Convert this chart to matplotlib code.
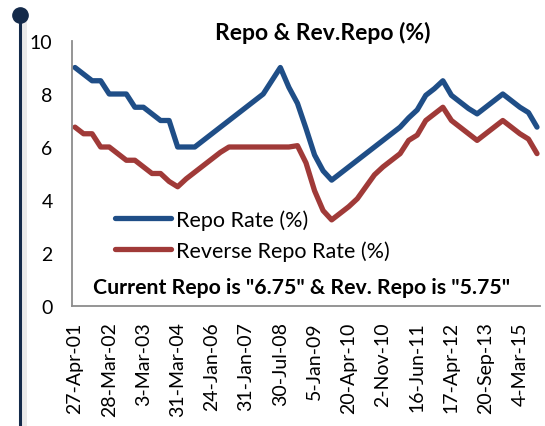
import matplotlib
matplotlib.use("Agg")
import matplotlib.pyplot as plt
from matplotlib.lines import Line2D

plt.rcParams['font.family'] = ['Lato', 'DejaVu Sans']

# policy rate changes, one point per change
repo = [9.0, 8.75, 8.5, 8.5, 8.0, 8.0, 8.0, 7.5, 7.5, 7.25, 7.0, 7.0, 6.0, 6.0, 6.0,
        6.25, 6.5, 6.75, 7.0, 7.25, 7.5, 7.75, 8.0, 8.5, 9.0, 8.25, 7.65, 6.7, 5.7,
        5.1, 4.75, 5.0, 5.25, 5.5, 5.75, 6.0, 6.25, 6.5, 6.75, 7.1, 7.4, 7.95, 8.2,
        8.5, 7.95, 7.7, 7.45, 7.25, 7.5, 7.75, 8.0, 7.75, 7.5, 7.3, 6.75]
rev_repo = [6.75, 6.5, 6.5, 6.0, 6.0, 5.75, 5.5, 5.5, 5.25, 5.0, 5.0, 4.7, 4.5, 4.8,
            5.05, 5.3, 5.55, 5.8, 6.0, 6.0, 6.0, 6.0, 6.0, 6.0, 6.0, 6.0, 6.05, 5.4,
            4.35, 3.6, 3.25, 3.5, 3.75, 4.05, 4.5, 4.95, 5.25, 5.5, 5.75, 6.25, 6.45,
            7.0, 7.25, 7.5, 7.0, 6.75, 6.5, 6.25, 6.5, 6.75, 7.0, 6.75, 6.5, 6.3, 5.75]
tick_labels = ['27-Apr-01', '28-Mar-02', '3-Mar-03', '31-Mar-04', '24-Jan-06',
               '31-Jan-07', '30-Jul-08', '5-Jan-09', '20-Apr-10', '2-Nov-10',
               '16-Jun-11', '17-Apr-12', '20-Sep-13', '4-Mar-15']
label_step = 4

blue = '#1f4e87'
red = '#a03a38'
navy = '#142a4a'

fig = plt.figure(figsize=(5.45, 4.27), dpi=100)
ax = fig.add_axes([72/545, 1 - 307/427, 468/545, 265/427])

x = list(range(len(repo)))
ax.plot(x, repo, color=blue, lw=3.8, solid_joinstyle='round', solid_capstyle='round',
        label='Repo Rate (%)')
ax.plot(x, rev_repo, color=red, lw=3.8, solid_joinstyle='round', solid_capstyle='round',
        label='Reverse Repo Rate (%)')

ax.set_ylim(0, 10)
ax.set_xlim(-0.35, len(repo) - 1 + 0.35)
ax.set_yticks([0, 2, 4, 6, 8, 10])
ax.set_xticks(range(0, len(repo), label_step))
ax.set_xticklabels(tick_labels, rotation=90, va='top', ha='center')
ax.tick_params(axis='y', length=0, pad=14, labelsize=14)
ax.tick_params(axis='x', length=0, pad=11, labelsize=14)
for s in ['top', 'right']:
    ax.spines[s].set_visible(False)
for s in ['left', 'bottom']:
    ax.spines[s].set_color('#8c8c8c')
    ax.spines[s].set_linewidth(1.3)

leg = ax.legend(loc='center left', bbox_to_anchor=(0.092, 0.268), frameon=False,
                fontsize=15.5, handlelength=2.6, handletextpad=0.25, borderpad=0,
                borderaxespad=0, labelspacing=0.5)

ax.text(0.49, 0.072, 'Current Repo is "6.75" & Rev. Repo is "5.75"', transform=ax.transAxes,
        ha='center', va='center', fontsize=15.3, fontweight='bold')
fig.text(323/545, 1 - 33/427, 'Repo & Rev.Repo (%)', ha='center', va='center',
         fontsize=16.5, fontweight='bold')

# slide decoration: vertical rule with a dot on top
fig.add_artist(Line2D([23/545, 23/545], [0, 1 - 18/427], color='#dcdcdc', lw=5, alpha=0.6))
fig.add_artist(Line2D([20/545, 20/545], [0, 1 - 16/427], color=navy, lw=2.2))
fig.add_artist(Line2D([20/545], [1 - 16/427], marker='o', markersize=11, color=navy))

fig.savefig('out.png', dpi=100)
